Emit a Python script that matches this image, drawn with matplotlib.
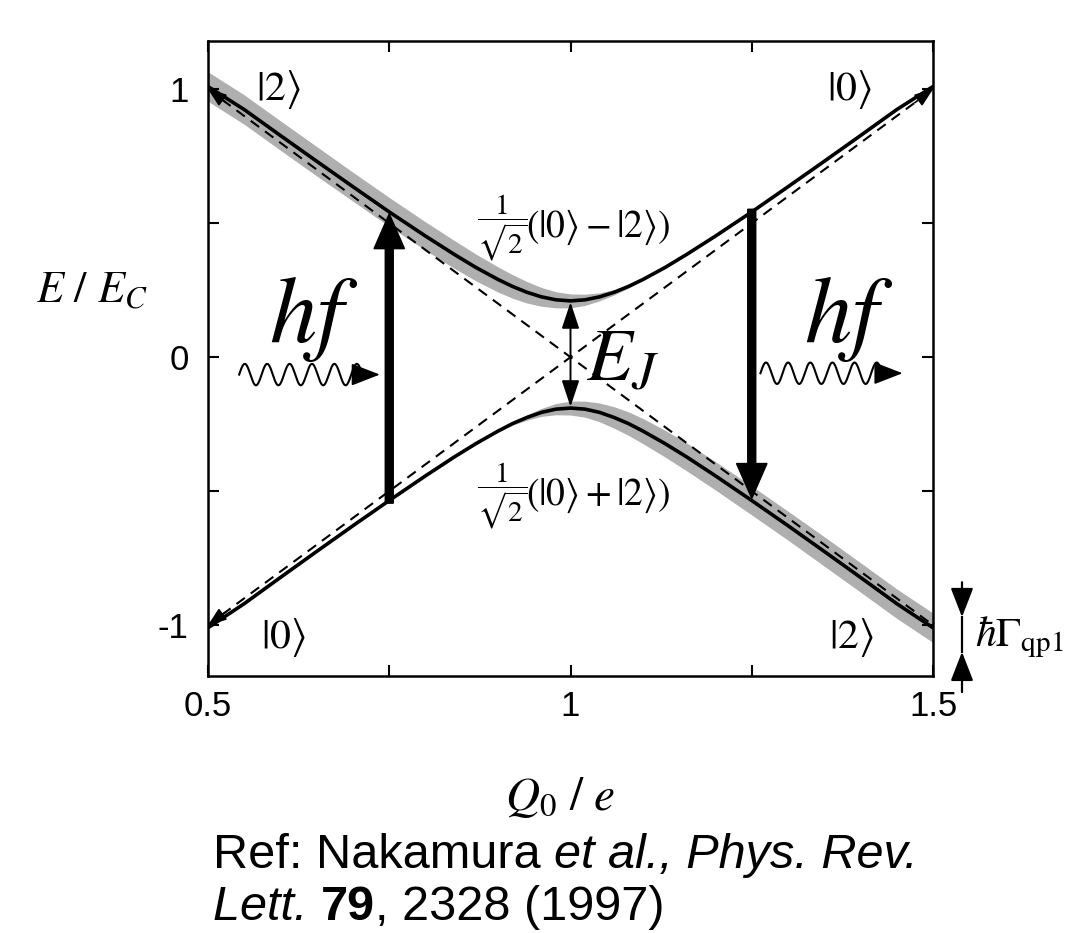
import numpy as np
import matplotlib
matplotlib.use("Agg")
import matplotlib.pyplot as plt

# ---- data ----
q0 = [0.50, 0.55, 0.60, 0.65, 0.70, 0.75, 0.80, 0.84, 0.87, 0.90, 0.92, 0.94, 0.96, 0.98, 1.00,
      1.02, 1.04, 1.06, 1.08, 1.10, 1.13, 1.16, 1.20, 1.25, 1.30, 1.35, 1.40, 1.45, 1.50]
e_upper = [1.01, 0.924, 0.827, 0.731, 0.636, 0.542, 0.452, 0.383, 0.334, 0.290, 0.264, 0.242, 0.225, 0.214, 0.210,
           0.214, 0.225, 0.242, 0.264, 0.290, 0.334, 0.383, 0.452, 0.542, 0.636, 0.731, 0.827, 0.924, 1.01]
e_lower = [-1.01, -0.920, -0.822, -0.725, -0.629, -0.535, -0.443, -0.372, -0.322, -0.276, -0.248, -0.225, -0.206, -0.194, -0.190,
           -0.194, -0.206, -0.225, -0.248, -0.276, -0.322, -0.372, -0.443, -0.535, -0.629, -0.725, -0.822, -0.920, -1.01]
# half-width of the grey broadening band (|2> weight)
band_upper = [0.055, 0.055, 0.055, 0.055, 0.054, 0.054, 0.053, 0.052, 0.050, 0.047, 0.044, 0.040, 0.035, 0.030, 0.026,
              0.021, 0.015, 0.010, 0.006, 0.003, 0, 0, 0, 0, 0, 0, 0, 0, 0]
band_lower = [0, 0, 0, 0, 0, 0, 0, 0, 0, 0.003, 0.006, 0.010, 0.015, 0.021, 0.026,
              0.030, 0.035, 0.040, 0.044, 0.047, 0.050, 0.052, 0.053, 0.054, 0.054, 0.055, 0.055, 0.055, 0.055]

dash_x = [0.5, 1.5]
dash_falling = [1.0, -1.0]
dash_rising = [-1.0, 1.0]

# photon transitions: (x, start E, end E)
absorb = (0.75, -0.545, 0.535)
emit = (1.25, 0.552, -0.527)
ej_gap = (1.0, 0.205, -0.185)

xticks = [0.5, 0.75, 1.0, 1.25, 1.5]
xticklabels = ["0.5", "", "1", "", "1.5"]
yticks = [-1.0, -0.5, 0.0, 0.5, 1.0]
yticklabels = ["-1", "", "0", "", "1"]

ref_line1 = [("Ref: Nakamura ", "normal", "normal"), ("et al., Phys. Rev.", "italic", "normal")]
ref_line2 = [("Lett. ", "italic", "normal"), ("79", "normal", "bold"), (", 2328 (1997)", "normal", "normal")]

MATH = "stix"
SANS = "Liberation Sans"
W, H = 1070, 933


def wavy(ax, x0, x1, xtip, y, amp=0.04, cycles=5.5):
    t = np.linspace(0, 1, 400)
    ax.plot(x0 + (x1 - x0) * t, y + amp * np.sin(2 * np.pi * cycles * t), color="k", lw=1.5)
    ax.annotate("", xy=(xtip, y), xytext=(x1 - 0.002, y),
                arrowprops=dict(arrowstyle="-|>,head_length=0.9,head_width=0.35", color="k",
                                lw=1.2, mutation_scale=20, shrinkA=0, shrinkB=0))


def text_runs(fig, x_px, y_px, runs, size):
    r = fig.canvas.get_renderer()
    x = x_px / W
    for s, style, weight in runs:
        t = fig.text(x, 1 - y_px / H, s, fontsize=size, family=SANS, style=style,
                     weight=weight, ha="left", va="baseline")
        x = t.get_window_extent(r).x1 / fig.bbox.width


fig = plt.figure(figsize=(10.7, 9.33), dpi=100)
ax = fig.add_axes([208 / W, 1 - 676 / H, (933 - 208) / W, (676 - 41) / H])

x = np.array(q0)
up = np.array(e_upper); lo = np.array(e_lower)
bu = np.array(band_upper); bl = np.array(band_lower)
ax.fill_between(x, up - bu, up + bu, where=bu > 0, color="#afafaf", lw=0, zorder=1, interpolate=True)
ax.fill_between(x, lo - bl, lo + bl, where=bl > 0, color="#afafaf", lw=0, zorder=1, interpolate=True)

ax.plot(dash_x, dash_falling, color="k", lw=1.5, ls=(0, (5, 3.5)), zorder=2)
ax.plot(dash_x, dash_rising, color="k", lw=1.5, ls=(0, (5, 3.5)), zorder=2)
for (xa, ya), (xb, yb) in [((0.525, 0.95), (0.5, 1.0)), ((0.525, -0.95), (0.5, -1.0)),
                           ((1.475, 0.95), (1.5, 1.0))]:
    ax.annotate("", xy=(xb, yb), xytext=(xa, ya),
                arrowprops=dict(arrowstyle="-|>,head_length=0.8,head_width=0.3", color="k",
                                lw=1.2, mutation_scale=14, shrinkA=0, shrinkB=0))

ax.plot(x, up, color="k", lw=2.6, zorder=3, solid_capstyle="round")
ax.plot(x, lo, color="k", lw=2.6, zorder=3, solid_capstyle="round")

for xa, ya, yb in (absorb, emit):
    ax.arrow(xa, ya, 0, yb - ya, width=0.011, head_width=0.042, head_length=0.13,
             length_includes_head=True, color="k", zorder=4)

xa, ya, yb = ej_gap
ax.annotate("", xy=(xa, yb), xytext=(xa, ya),
            arrowprops=dict(arrowstyle="<|-|>,head_length=0.9,head_width=0.3", color="k",
                            lw=1.4, mutation_scale=18, shrinkA=0, shrinkB=0), zorder=4)

wavy(ax, 0.543, 0.713, 0.737, -0.065)
wavy(ax, 1.262, 1.43, 1.458, -0.06)

# labels inside the plot
kw = dict(math_fontfamily=MATH, ha="center", va="center")
ax.text(0.597, 1.0, r"$|2\rangle$", fontsize=30, **kw)
ax.text(1.384, 1.0, r"$|0\rangle$", fontsize=30, **kw)
ax.text(0.604, -1.045, r"$|0\rangle$", fontsize=30, **kw)
ax.text(1.387, -1.045, r"$|2\rangle$", fontsize=30, **kw)
for yc, sign in [(0.485, "-"), (-0.515, "+")]:
    ax.text(0.906, yc, r"$\dfrac{1}{\sqrt{2}}$", fontsize=21, **kw)
    ax.text(0.939, yc, r"$\left(|0\rangle%s|2\rangle\right)$" % sign, fontsize=27,
            math_fontfamily=MATH, ha="left", va="center")
ax.text(0.646, 0.145, r"$hf$", fontsize=68, **kw)
ax.text(1.383, 0.145, r"$hf$", fontsize=68, **kw)
ax.text(1.072, -0.01, r"$E_J$", fontsize=54, **kw)

# hbar Gamma marker outside right edge
for ys, ye in [(-0.84, -0.97), (-1.25, -1.10)]:
    ax.annotate("", xy=(1.54, ye), xytext=(1.54, ys), annotation_clip=False,
                arrowprops=dict(arrowstyle="-|>,head_length=0.9,head_width=0.35", color="k",
                                lw=1.6, mutation_scale=20, shrinkA=0, shrinkB=0))
ax.plot([1.54, 1.54], [-0.97, -1.10], color="k", lw=1.6, clip_on=False)
ax.text(1.558, -1.045, r"$\hbar\Gamma_{\mathrm{qp1}}$", fontsize=30, math_fontfamily=MATH,
        ha="left", va="center", clip_on=False)

ax.set_xlim(0.5, 1.5)
ax.set_ylim(-1.19, 1.18)
ax.set_xticks(xticks, labels=xticklabels)
ax.set_yticks(yticks, labels=yticklabels)
ax.tick_params(direction="in", length=8, width=1.5, top=True, right=True, labelsize=25)
ax.tick_params(axis="x", pad=10)
ax.tick_params(axis="y", pad=14)
for lab in ax.get_xticklabels() + ax.get_yticklabels():
    lab.set_fontfamily(SANS)
for sp in ax.spines.values():
    sp.set_linewidth(1.8)

fig.text(92 / W, 1 - 290 / H, r"$E\ /\ E_C$", fontsize=32, math_fontfamily=MATH,
         ha="center", va="center")
fig.text(560 / W, 1 - 797 / H, r"$Q_0\ /\ e$", fontsize=34, math_fontfamily=MATH,
         ha="center", va="center")

text_runs(fig, 213, 868, ref_line1, 35)
text_runs(fig, 213, 920, ref_line2, 35)

fig.savefig("out.png", dpi=100)
